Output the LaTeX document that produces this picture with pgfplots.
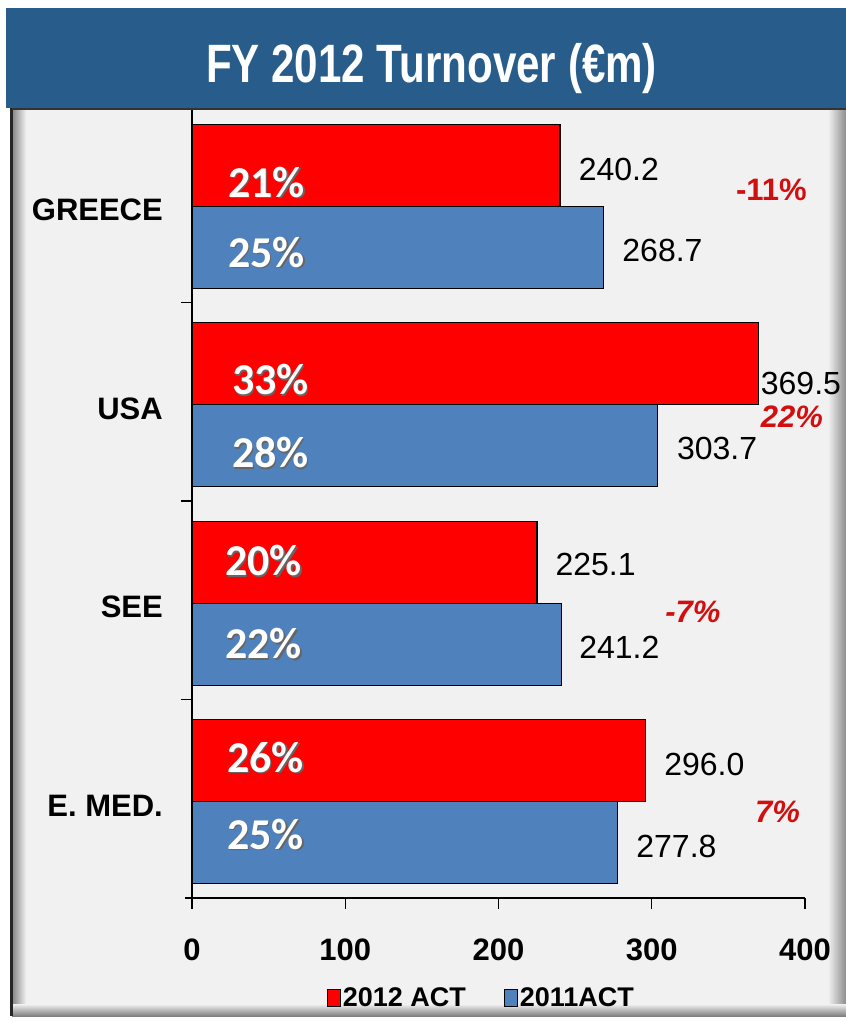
\documentclass[border=0pt]{standalone}
\usepackage{fontspec}
\setmainfont{Liberation Sans}
\newfontfamily\calfont{Carlito}
\usepackage{pgfplots}
\usepackage{pgfplotstable}
\pgfplotsset{compat=1.18}

\definecolor{banner}{RGB}{40,93,139}
\definecolor{panel}{RGB}{241,241,241}
\definecolor{barred}{RGB}{255,0,0}
\definecolor{barblue}{RGB}{79,129,189}
\definecolor{chg}{RGB}{210,14,14}

% 2012 ACT (red)
\pgfplotstableread{
y val lab dx dy
3 240.2 240.2 18 -4
2 369.5 369.5 2 -19.5
1 225.1 225.1 18 -2
0 296.0 296.0 18 -3.5
}\redtab
% 2011 ACT (blue)
\pgfplotstableread{
y val lab dx dy
3 268.7 268.7 18 -3
2 303.7 303.7 19 -3
1 241.2 241.2 17 -3
0 277.8 277.8 18 -4
}\bluetab

\newcommand{\pct}[3]{%
  \node[anchor=west, inner sep=0pt, text=black!60, xshift=1.3bp, yshift=-1.3bp,
        font={\calfont\bfseries\fontsize{44bp}{48bp}\selectfont}] at (axis cs:#1,#2) {#3};
  \node[anchor=west, inner sep=0pt, text=white,
        font={\calfont\bfseries\fontsize{44bp}{48bp}\selectfont}] at (axis cs:#1,#2) {#3};}

\newcommand{\chg}[3]{%
  \node[anchor=center, inner sep=0pt, text=chg,
        font={\bfseries\fontsize{31bp}{34bp}\selectfont}] at (axis cs:#1,#2) {#3};}

\pgfplotsset{
  mylegend/.style={legend image code/.code={\draw[##1, line width=1bp] (-8bp,-8.5bp) rectangle (5bp,8.5bp);}}
}

\begin{document}
\begin{tikzpicture}
\useasboundingbox (0bp,0bp) rectangle (846bp,-1022bp);
\fill[white] (0bp,0bp) rectangle (846bp,-1022bp);
\fill[panel] (12bp,-108bp) rectangle (846bp,-1016bp);
\shade[left color=black!45, right color=panel] (13bp,-108bp) rectangle (26bp,-1016bp);
\shade[left color=panel, right color=black!45] (828bp,-108bp) rectangle (846bp,-1016bp);
\shade[top color=panel, bottom color=black!50] (12bp,-1004bp) rectangle (846bp,-1016bp);
\draw[black!85, line width=2.5bp] (11.5bp,-108bp) -- (11.5bp,-1016bp);

\begin{axis}[
  at={(192bp,-898bp)}, anchor=south west,
  scale only axis, width=613bp, height=794bp,
  xmin=0, xmax=400, ymin=-0.5, ymax=3.5,
  axis x line*=bottom, axis y line*=left,
  axis line style={-, line width=1.3bp, black},
  x axis line style={shorten <=-7bp},
  tick style={black, line width=1.3bp},
  tick align=outside, major tick length=11bp,
  xtick={0,100,200,300,400},
  /pgf/number format/assume math mode=true,
  xticklabel style={anchor=base, yshift=-51bp, inner sep=0pt,
     font={\bfseries\fontsize{31bp}{36bp}\selectfont}},
  ytick={0.5,1.5,2.5}, yticklabels={},
  extra y ticks={0,1,2,3},
  extra y tick labels={E. MED.,SEE,USA,GREECE},
  extra y tick style={major tick length=0pt},
  yticklabel style={anchor=east, inner sep=0pt, xshift=-29bp, yshift=-7bp,
     font={\bfseries\fontsize{31bp}{36bp}\selectfont}},
  clip=false,
  legend style={at={(0.472,-0.126)}, anchor=center, draw=none, fill=none,
     legend columns=2, inner sep=0pt,
     font={\bfseries\fontsize{27bp}{30bp}\selectfont},
     /tikz/every even column/.append style={column sep=36bp}},
]
\addplot[xbar, bar width=82bp, bar shift=38bp, fill=barred, draw=black, line width=1.3bp,
  mylegend,
  point meta=explicit symbolic, nodes near coords,
  visualization depends on={\thisrow{dx} \as \dx},
  visualization depends on={\thisrow{dy} \as \dy},
  nodes near coords style={anchor=west, inner sep=0pt, xshift=\dx*1bp, yshift=(38+\dy)*1bp,
     text=black, font={\fontsize{32bp}{36bp}\selectfont}}]
  table[x=val, y=y, meta=lab] {\redtab};
\addlegendentry{2012 ACT}
\addplot[xbar, bar width=82bp, bar shift=-44bp, fill=barblue, draw=black, line width=1.3bp,
  mylegend,
  point meta=explicit symbolic, nodes near coords,
  visualization depends on={\thisrow{dx} \as \dx},
  visualization depends on={\thisrow{dy} \as \dy},
  nodes near coords style={anchor=west, inner sep=0pt, xshift=\dx*1bp, yshift=(-44+\dy)*1bp,
     text=black, font={\fontsize{32bp}{36bp}\selectfont}}]
  table[x=val, y=y, meta=lab] {\bluetab};
\addlegendentry{2011ACT}

\pct{23.5}{3.107}{21\%}
\pct{23.5}{2.754}{25\%}
\pct{26}{2.110}{33\%}
\pct{26}{1.742}{28\%}
\pct{21.5}{1.198}{20\%}
\pct{21.5}{0.780}{22\%}
\pct{22.8}{0.210}{26\%}
\pct{22.8}{-0.178}{25\%}

\chg{378.1}{3.067}{-11\%}
\chg{391.5}{1.923}{\itshape 22\%}
\chg{326.9}{0.941}{\itshape -7\%}
\chg{382.1}{-0.067}{\itshape 7\%}
\end{axis}

\fill[banner] (6bp,-8bp) rectangle (846bp,-108bp);
\draw[black!80, line width=2bp] (12bp,-109bp) -- (846bp,-109bp);
\node[anchor=base, inner sep=0pt, text=white,
      font={\bfseries\fontsize{54bp}{60bp}\selectfont}] at (431.5bp,-82bp)
      {\scalebox{0.78}[1]{FY 2012 Turnover (€m)}};
\end{tikzpicture}
\end{document}
